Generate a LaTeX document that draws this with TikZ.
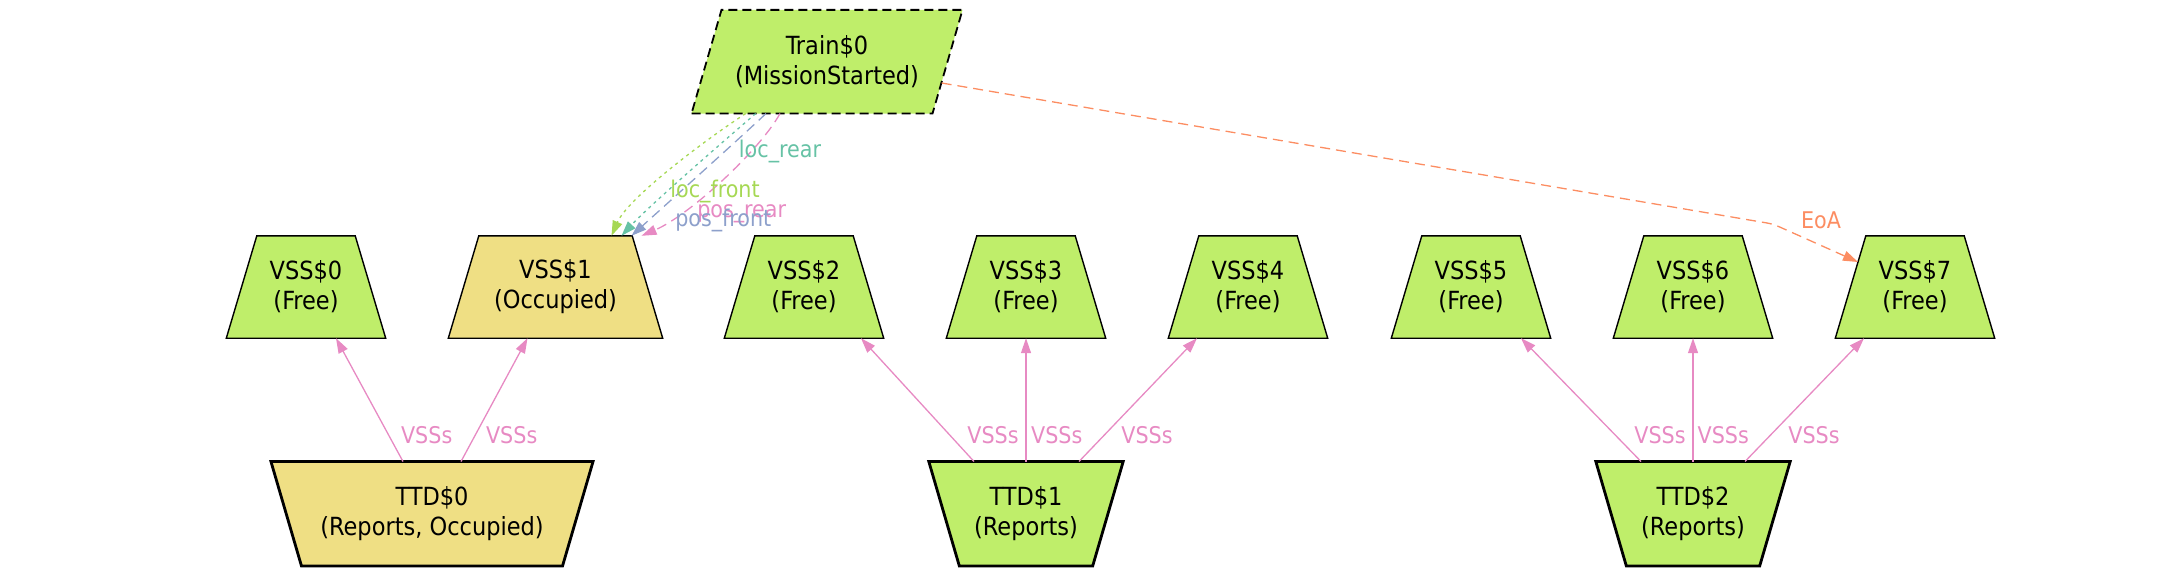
\documentclass[tikz,border=0pt]{standalone}
\usepackage{fontspec}
\setmainfont{DejaVu Sans Condensed}
\usetikzlibrary{arrows.meta,backgrounds,calc}
\definecolor{vgreen}{HTML}{BFEE6A}
\definecolor{vyellow}{HTML}{EFDF84}
\definecolor{cteal}{HTML}{66C2A5}
\definecolor{corange}{HTML}{FC8D62}
\definecolor{cblue}{HTML}{8DA0CB}
\definecolor{cpink}{HTML}{E78AC3}
\definecolor{clime}{HTML}{A6D854}
\begin{document}
\begin{tikzpicture}[x=1pt,y=-1pt,
  nodetext/.style={inner sep=0pt, align=center, font=\fontsize{25}{30}\selectfont},
  vssbox/.style={nodetext, minimum height=102pt, minimum width=159pt},
  ttdbox/.style={nodetext, minimum height=104pt},
  trainbox/.style={nodetext, minimum height=103.3pt, minimum width=270.6pt},
  lbl/.style={inner sep=0pt, font=\fontsize{23}{27}\selectfont},
  tip/.style={-{Triangle[length=15pt,width=10pt]}},
  vssedge/.style={draw=cpink, line width=1.3pt, tip},
  trainedge/.style={line width=1.3pt, tip},
  dotline/.style={dash pattern=on 3pt off 4pt},
  dashline/.style={dash pattern=on 10pt off 6pt},
  vssshape/.style={draw=black, line width=1.4pt, line join=miter},
  ttdshape/.style={draw=black, line width=2.8pt, line join=miter},
]
\useasboundingbox (0,0) rectangle (2160,576);

% nodes
\node[trainbox] (tr) at (827,61.7) {Train\$0\\(MissionStarted)};

\node[vssbox] (v0) at (306,287) {VSS\$0\\(Free)};
\node[vssbox, minimum width=214pt] (v1) at (555.5,287) {VSS\$1\\(Occupied)};
\node[vssbox] (v2) at (804,287) {VSS\$2\\(Free)};
\node[vssbox] (v3) at (1026,287) {VSS\$3\\(Free)};
\node[vssbox] (v4) at (1248,287) {VSS\$4\\(Free)};
\node[vssbox] (v5) at (1471,287) {VSS\$5\\(Free)};
\node[vssbox] (v6) at (1693,287) {VSS\$6\\(Free)};
\node[vssbox] (v7) at (1915,287) {VSS\$7\\(Free)};

\node[ttdbox, minimum width=321.7pt] (t0) at (432,513.7) {TTD\$0\\(Reports, Occupied)};
\node[ttdbox, minimum width=194pt] (t1) at (1026,513.7) {TTD\$1\\(Reports)};
\node[ttdbox, minimum width=194pt] (t2) at (1693,513.7) {TTD\$2\\(Reports)};

% shapes behind the texts
\begin{pgfonlayer}{background}
  \filldraw[fill=vgreen, draw=black, line width=1.8pt, dash pattern=on 9pt off 5pt]
    (tr.south west) -- ($(tr.south east)+(-30,0)$) -- (tr.north east)
    -- ($(tr.north west)+(30,0)$) -- cycle;
  \foreach \n/\c in {v0/vgreen, v1/vyellow, v2/vgreen, v3/vgreen, v4/vgreen, v5/vgreen, v6/vgreen, v7/vgreen}{
    \filldraw[vssshape, fill=\c]
      (\n.south west) -- ($(\n.north west)+(30.5,0)$)
      -- ($(\n.north east)+(-30.5,0)$) -- (\n.south east) -- cycle;
  }
  \foreach \n/\c in {t0/vyellow, t1/vgreen, t2/vgreen}{
    \filldraw[ttdshape, fill=\c]
      (\n.north west) -- (\n.north east)
      -- ($(\n.south east)+(-30.5,0)$) -- ($(\n.south west)+(30.5,0)$) -- cycle;
  }
\end{pgfonlayer}

% VSSs edges
\draw[vssedge] ([xshift=-29pt]t0.north) -- ([xshift=30pt]v0.south);
\draw[vssedge] ([xshift=29pt]t0.north) -- ([xshift=-28pt]v1.south);
\draw[vssedge] ([xshift=-52pt]t1.north) -- ([xshift=57pt]v2.south);
\draw[vssedge] (t1.north) -- (v3.south);
\draw[vssedge] ([xshift=53pt]t1.north) -- ([xshift=-51pt]v4.south);
\draw[vssedge] ([xshift=-52pt]t2.north) -- ([xshift=50pt]v5.south);
\draw[vssedge] (t2.north) -- (v6.south);
\draw[vssedge] ([xshift=52pt]t2.north) -- ([xshift=-51pt]v7.south);

\node[lbl, text=cpink] (l0) at (426.7,435) {VSSs};
\node[lbl, text=cpink] (l1) at (511.7,435) {VSSs};
\node[lbl, text=cpink] (l2) at (993,435) {VSSs};
\node[lbl, text=cpink] (l3) at (1056.7,435) {VSSs};
\node[lbl, text=cpink] (l4) at (1147,435) {VSSs};
\node[lbl, text=cpink] (l5) at (1660,435) {VSSs};
\node[lbl, text=cpink] (l6) at (1723.3,435) {VSSs};
\node[lbl, text=cpink] (l7) at (1814,435) {VSSs};

% Train edges to VSS$1
\draw[trainedge, clime, dotline] ([xshift=-81.3pt]tr.south) .. controls (705,140) and (628,198) .. ([xshift=56pt]v1.north);
\draw[trainedge, cteal, dotline] ([xshift=-71.3pt]tr.south) .. controls (725,140) and (650,205) .. ([xshift=66pt]v1.north);
\draw[trainedge, cblue, dashline] ([xshift=-61pt]tr.south) .. controls (740,138) and (660,210) .. ([xshift=76pt]v1.north);
\draw[trainedge, cpink, dashline] ([xshift=-47pt]tr.south) .. controls (760,150) and (690,215) .. ([xshift=86pt]v1.north);

\node[lbl, text=cteal] (lr) at (780,151.7) {loc\_rear};
\node[lbl, text=clime] (lf) at (715,191.7) {loc\_front};
\node[lbl, text=cpink] (pr) at (741.7,213.3) {pos\_rear};
\node[lbl, text=cblue] (pf) at (723.3,220) {pos\_front};

% EoA
\draw[trainedge, corange, dashline, rounded corners=6pt] ([xshift=-20.9pt,yshift=-21.3pt]tr.east) -- (1773,224) -- ([xshift=22.7pt,yshift=25pt]v7.west);
\node[lbl, text=corange] (eoa) at (1821,220) {EoA};
\end{tikzpicture}
\end{document}
